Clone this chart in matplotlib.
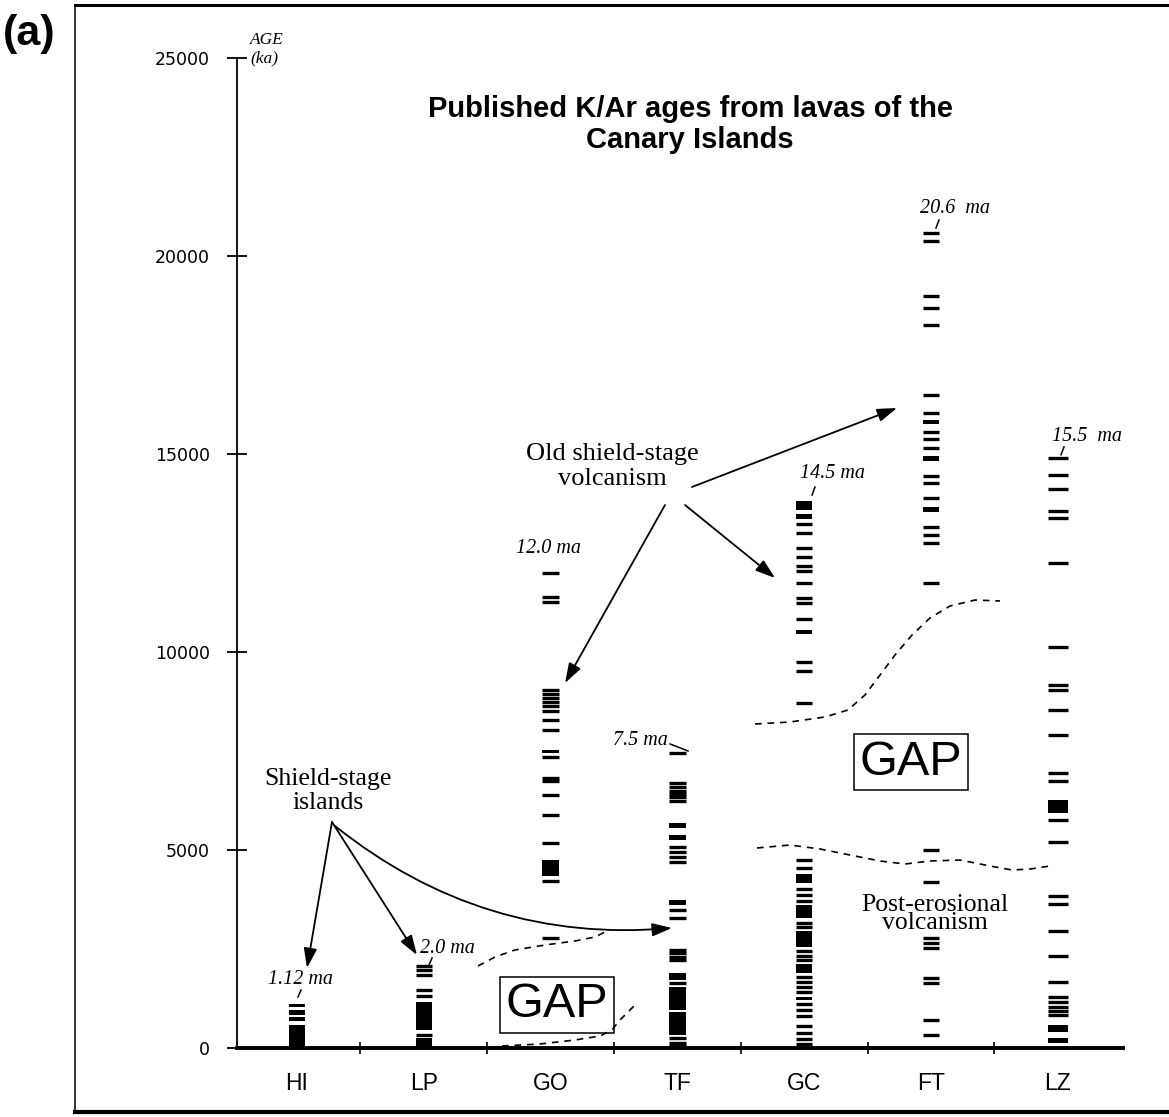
import matplotlib
matplotlib.use('Agg')
from matplotlib import pyplot as plt
from matplotlib.lines import Line2D

# islands, west to east
islands = ['HI', 'LP', 'GO', 'TF', 'GC', 'FT', 'LZ']

# single K/Ar ages (ka) and runs of ages so close they print solid (lo, hi)
hi_ages = []
hi_runs = [(0, 580), (680, 790), (840, 960), (1030, 1120)]

lp_ages = [2075, 1970, 1852, 1460, 1308, 320]
lp_runs = [(0, 240), (455, 1170)]

go_ages = [12000, 11380, 11270, 9050, 8945, 8840, 8730, 8635, 8500, 8280, 8040,
           7350, 6820, 6730, 6380, 5890, 5180, 4210, 2790]
go_runs = [(7440, 7530), (4340, 4740)]

tf_ages = [7440, 6680, 6600, 6500, 6410, 6330, 6245, 5085, 4960, 4830, 4705,
           3480, 3280, 2475, 2390, 2300, 2220, 1630, 245, 120, 40]
tf_runs = [(5550, 5670), (5250, 5380), (3610, 3740), (1720, 1890), (330, 900), (960, 1550)]

gc_ages = [13220, 13010, 12630, 12400, 12170, 12050, 11735, 11365, 11245, 10830,
           9760, 9530, 8700,
           4760, 4550, 4020, 3865, 3720, 3145, 3050, 2450, 2330, 2220, 1800, 1665,
           1550, 1420, 1100, 970, 800, 550, 370, 230, 90]
gc_runs = [(13580, 13810), (13360, 13480), (10455, 10550), (4160, 4390), (3280, 3610),
           (2540, 2960), (1895, 2125), (1200, 1290)]

ft_ages = [20570, 20380, 18990, 18680, 18260, 16490, 16045, 15565, 15370, 15145,
           14455, 14260, 13880, 13165, 12955, 12745, 11735,
           5000, 4200, 2780, 2650, 2520, 1760, 1640, 707, 328]
ft_runs = [(15760, 15860), (14830, 14950), (13545, 13655)]

lz_ages = [14900, 14480, 14106, 13565, 13374, 12247, 10126, 9169, 9033, 8525, 7906,
           6947, 6745, 5765, 5202, 3848, 3624, 2947, 2326, 1675, 1296, 1170, 1043,
           934, 833]
lz_runs = [(5932, 6273), (412, 581), (120, 250)]

# oldest-age labels: (column, age, text)
max_labels = [(0.024, 1742, '1.12 ma'), (1.183, 2525, '2.0 ma'), (1.98, 12626, '12.0 ma'),
              (2.705, 7753, '7.5 ma'), (4.227, 14495, '14.5 ma'), (5.189, 21212, '20.6  ma'),
              (6.23, 15430, '15.5  ma')]

# dashed boundaries of the erosional gaps
gap1_x = [1.427, 1.562, 1.719, 1.956, 2.192, 2.350, 2.429]
gap1_y = [2071, 2298, 2475, 2601, 2702, 2803, 2929]
gap2_x = [1.617, 1.916, 2.192, 2.390, 2.484, 2.547, 2.658]
gap2_y = [51, 101, 202, 303, 455, 707, 1061]
gap3_x = [3.612, 3.888, 4.164, 4.345, 4.479, 4.598, 4.716, 4.850, 4.992, 5.150, 5.347, 5.544]
gap3_y = [8182, 8232, 8359, 8535, 8914, 9419, 9924, 10429, 10859, 11162, 11313, 11288]
gap4_x = [3.628, 3.888, 4.125, 4.361, 4.598, 4.795, 4.992, 5.229, 5.465, 5.639, 5.781, 5.938]
gap4_y = [5051, 5126, 5025, 4874, 4722, 4646, 4722, 4747, 4596, 4495, 4520, 4596]

all_ages = [hi_ages, lp_ages, go_ages, tf_ages, gc_ages, ft_ages, lz_ages]
all_runs = [hi_runs, lp_runs, go_runs, tf_runs, gc_runs, ft_runs, lz_runs]

fig = plt.figure(figsize=(11.69, 11.17), dpi=100)
ax = fig.add_axes([237/1169, 69/1117, 886/1169, 990/1117])
ax.set_xlim(-0.473, 6.514)
ax.set_ylim(0, 25000)

for i, (ages, runs) in enumerate(zip(all_ages, all_runs)):
    hw = 0.08 if islands[i] == 'LZ' else 0.065
    if ages:
        ax.hlines(ages, i - hw, i + hw, color='k', lw=2.4)
    for lo, hi in runs:
        ax.bar(i, hi - lo, bottom=lo, width=2*hw, color='k', lw=0)

for gx, gy in [(gap1_x, gap1_y), (gap2_x, gap2_y), (gap3_x, gap3_y), (gap4_x, gap4_y)]:
    ax.plot(gx, gy, color='k', lw=1.2, ls=(0, (4, 3.5)))

serif = 'Liberation Serif'
for x, y, s in max_labels:
    ax.text(x, y, s, ha='center', va='center', family=serif, style='italic', fontsize=14.5)
# small leaders under the labels
for x0, x1, y0, y1 in [(0.008, 0.032, 1288, 1465), (1.041, 1.065, 2096, 2273),
                       (4.062, 4.085, 13965, 14167), (5.039, 5.063, 20707, 20909),
                       (6.025, 6.049, 14980, 15180), (2.942, 3.084, 7677, 7500)]:
    ax.plot([x0, x1], [y0, y1], color='k', lw=1.1)

arrow = dict(arrowstyle='-|>,head_length=0.6,head_width=0.2', color='k', lw=1.3,
             mutation_scale=20, shrinkA=0, shrinkB=0)
ax.annotate('', xy=(0.079, 2020), xytext=(0.276, 5707), arrowprops=arrow)
ax.annotate('', xy=(0.946, 2348), xytext=(0.276, 5707), arrowprops=arrow)
ax.annotate('', xy=(2.957, 3030), xytext=(0.30, 5606),
            arrowprops=dict(arrow, connectionstyle='arc3,rad=0.2'))
ax.annotate('', xy=(2.114, 9217), xytext=(2.902, 13712), arrowprops=arrow)
ax.annotate('', xy=(4.732, 16162), xytext=(3.115, 14167), arrowprops=arrow)
ax.annotate('', xy=(3.77, 11869), xytext=(3.06, 13712), arrowprops=arrow)

ax.text(0.244, 6490, 'Shield-stage\nislands', ha='center', va='center',
        family=serif, fontsize=18.5, linespacing=1.1)
ax.text(2.484, 14690, 'Old shield-stage\nvolcanism', ha='center', va='center',
        family=serif, fontsize=19, linespacing=1.2)
ax.text(5.03, 3384, 'Post-erosional\nvolcanism', ha='center', va='center',
        family=serif, fontsize=18.5, linespacing=0.8)

gap_box = dict(boxstyle='square,pad=0.12', fc='none', ec='k', lw=1.1)
ax.text(2.05, 1086, 'GAP', ha='center', va='center', family='Liberation Sans',
        fontsize=35, bbox=gap_box)
ax.text(4.842, 7222, 'GAP', ha='center', va='center', family='Liberation Sans',
        fontsize=35, bbox=gap_box)

ax.text(3.10, 23700, 'Published K/Ar ages from lavas of the', ha='center', va='center',
        family='Liberation Sans', fontweight='bold', fontsize=21)
ax.text(3.10, 22940, 'Canary Islands', ha='center', va='center',
        family='Liberation Sans', fontweight='bold', fontsize=21)

ax.text(-0.371, 25460, 'AGE', ha='left', va='center', family=serif, style='italic', fontsize=12.5)
ax.text(-0.371, 24980, '(ka)', ha='left', va='center', family=serif, style='italic', fontsize=12.5)

# axes styling
for side in ['top', 'right']:
    ax.spines[side].set_visible(False)
ax.spines['left'].set_linewidth(1.3)
ax.spines['bottom'].set_linewidth(2.8)
ax.set_yticks([0, 5000, 10000, 15000, 20000, 25000])
ax.tick_params(axis='y', direction='inout', length=15, width=1.3, pad=12, labelsize=12.5)
ax.set_xticks(range(len(islands)))
ax.set_xticklabels(islands, family='Liberation Sans', fontsize=16.5)
ax.set_xticks([k + 0.5 for k in range(len(islands) - 1)], minor=True)
ax.tick_params(axis='x', which='major', length=0, pad=17)
ax.tick_params(axis='x', which='minor', direction='inout', length=8, width=1.2)

# page frame and panel letter
fig.add_artist(Line2D([75/1169, 1], [1 - 5/1117, 1 - 5/1117], color='k', lw=2.2))
fig.add_artist(Line2D([75/1169, 75/1169], [1 - 7/1117, 5/1117], color='k', lw=1.1))
fig.add_artist(Line2D([75/1169, 1], [5/1117, 5/1117], color='k', lw=3.0))
fig.text(3/1169, 1 - 34/1117, '(a)', ha='left', va='center', family='Liberation Sans',
         fontweight='bold', fontsize=31)

fig.savefig('out.png', dpi=100)
